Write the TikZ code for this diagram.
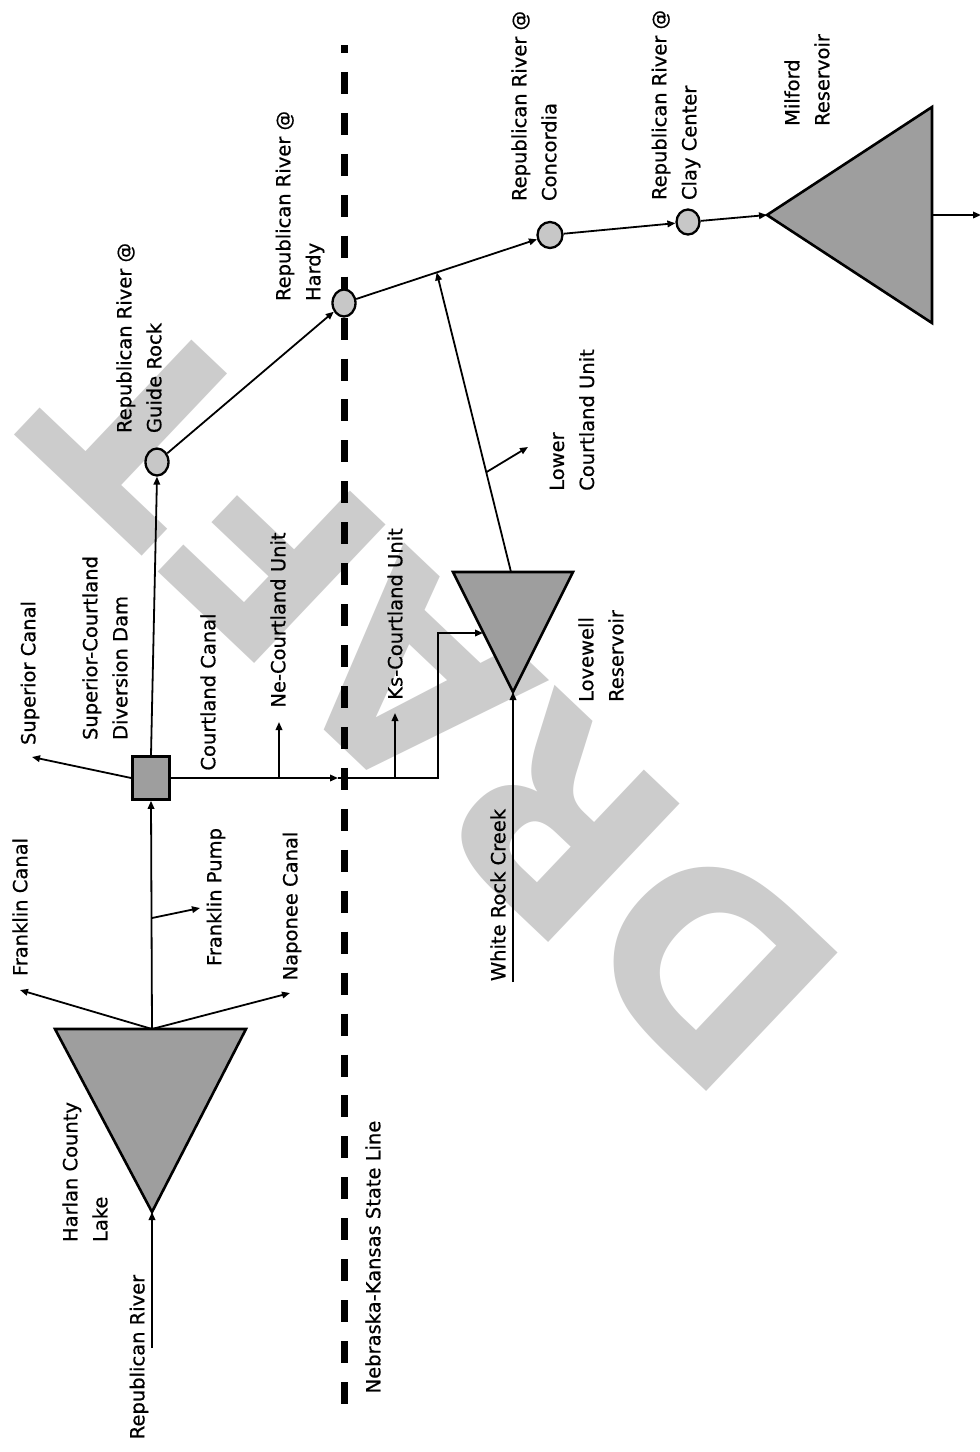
\documentclass[tikz,border=0pt]{standalone}
\usepackage{fontspec}
\setmainfont{DejaVu Sans}
\newfontfamily\lblfont{DejaVu Sans}[FakeBold=0.6]
\usetikzlibrary{arrows.meta,shapes.geometric,calc}
\begin{document}
\begin{tikzpicture}[x=1pt,y=-1pt,
  lbl/.style={font=\lblfont\fontsize{19.5}{30}\selectfont, rotate=90, inner sep=0pt, align=left},
  flow/.style={line width=1.8pt, -{Triangle[length=8pt,width=6.5pt]}},
  res/.style={line width=2.6pt, fill=black!38, line join=miter},
  gauge/.style={ellipse, draw, line width=2.3pt, fill=black!22, minimum width=23pt, minimum height=27pt, inner sep=0pt},
  stateline/.style={line width=7pt, dash pattern=on 22pt off 18.94pt, dash phase=14pt}
]
\useasboundingbox (0,0) rectangle (980,1452);
\fill[white] (0,0) rectangle (980,1452);

% watermark
\node[text=black!20, font=\fontsize{262}{290}\selectfont\bfseries, rotate=136.5, inner sep=0pt] (wm) at (434,702) {DRAFT};

% state line
\coordinate (slTop) at (344,45);
\coordinate (slBot) at (344,1406);
\draw[stateline] (slTop) -- (slBot);
\node[lbl] (sllbl) at (373,1257) {Nebraska-Kansas State Line};

% Harlan County Lake
\coordinate (hlL) at (55,1029);
\coordinate (hlR) at (246,1029);
\coordinate (hlA) at (152,1212);
\coordinate (hlT) at (152,1029);
\draw[res] (hlL) -- (hlR) -- (hlA) -- cycle;
\node[lbl] (hllbl) at (85,1172) {Harlan County\\Lake};

% Lovewell Reservoir
\coordinate (lwL) at (453,572);
\coordinate (lwR) at (573,572);
\coordinate (lwA) at (513,692);
\coordinate (lwT) at (511,572);
\coordinate (lwIn) at (483,633);
\draw[res] (lwL) -- (lwR) -- (lwA) -- cycle;
\node[lbl] (lwlbl) at (601,656) {Lovewell\\Reservoir};

% Milford Reservoir
\coordinate (mfA) at (767,215);
\coordinate (mfU) at (932,107);
\coordinate (mfD) at (932,323);
\coordinate (mfB) at (932,215);
\draw[res] (mfA) -- (mfU) -- (mfD) -- cycle;
\node[lbl] (mflbl) at (807,80) {Milford\\Reservoir};

% diversion dam
\node[draw, line width=2.6pt, fill=black!38, minimum width=37pt, minimum height=43pt, inner sep=0pt] (dam) at (151,778) {};
\node[lbl] (damlbl) at (105,648) {Superior-Courtland\\Diversion Dam};

% gauges
\node[gauge] (guide) at (157,462) {};
\node[gauge] (hardy) at (344,303) {};
\node[gauge, minimum width=25pt, minimum height=26pt] (conc) at (550,235) {};
\node[gauge, minimum height=25pt] (clay) at (688,222) {};
\node[lbl] (guidelbl) at (139,338) {Republican River @\\Guide Rock};
\node[lbl] (hardylbl) at (300,206) {Republican River @\\Hardy};
\node[lbl] (conclbl) at (534,106) {Republican River @\\Concordia};
\node[lbl] (claylbl) at (676,105) {Republican River @\\Clay Center};

% Republican River inflow
\coordinate (rrS) at (152,1348);
\draw[flow] (rrS) -- (hlA);
\node[lbl] (rrlbl) at (139,1357) {Republican River};

% Harlan outflows
\coordinate (fcE) at (20,990);
\coordinate (ncE) at (290,993);
\draw[flow] (hlT) -- (fcE);
\draw[flow] (hlT) -- (ncE);
\draw[flow] (hlT) -- (dam.south);
\node[lbl] (fclbl) at (20,907) {Franklin Canal};
\node[lbl] (nclbl) at (292,906) {Naponee Canal};

% Franklin Pump
\coordinate (fpS) at (152,918);
\coordinate (fpE) at (200,908);
\draw[flow] (fpS) -- (fpE);
\node[lbl] (fplbl) at (216,897) {Franklin Pump};

% Superior Canal
\coordinate (scE) at (32,757);
\draw[flow] (dam.west) -- (scE);
\node[lbl] (sclbl) at (30,673) {Superior Canal};

% main river
\draw[flow] (dam.north) -- (guide.south);
\draw[flow] (guide) -- (hardy);
\draw[flow] (hardy) -- (conc);
\draw[flow] (conc) -- (clay);
\draw[flow] (clay) -- (mfA);
\coordinate (mfO) at (981,215);
\draw[flow] (mfB) -- (mfO);

% Courtland Canal
\coordinate (ccMid) at (338,778);
\coordinate (ccC1) at (438,778);
\coordinate (ccC2) at (438,633);
\draw[flow] (dam.east) -- (ccMid);
\draw[flow] (ccMid) -- (ccC1) -- (ccC2) -- (lwIn);
\node[lbl] (cclbl) at (208,692) {Courtland Canal};

% Ne-Courtland Unit
\coordinate (neS) at (279,778);
\coordinate (neE) at (279,722);
\draw[flow] (neS) -- (neE);
\node[lbl] (nelbl) at (278,620) {Ne-Courtland Unit};

% Ks-Courtland Unit
\coordinate (ksS) at (395,778);
\coordinate (ksE) at (395,713);
\draw[flow] (ksS) -- (ksE);
\node[lbl] (kslbl) at (395,614) {Ks-Courtland Unit};

% White Rock Creek
\coordinate (wrS) at (513,982);
\draw[flow] (wrS) -- (lwA);
\node[lbl] (wrlbl) at (498,895) {White Rock Creek};

% Lovewell outflow
\coordinate (lcJ) at ($(hardy)!0.45!(conc)$);
\draw[flow] (lwT) -- (lcJ);
\coordinate (lcB) at ($(lwT)!0.333!(lcJ)$);
\coordinate (lcE) at (528,447);
\draw[flow] (lcB) -- (lcE);
\node[lbl] (lclbl) at (572,420) {Lower\\Courtland Unit};
\end{tikzpicture}
\end{document}
